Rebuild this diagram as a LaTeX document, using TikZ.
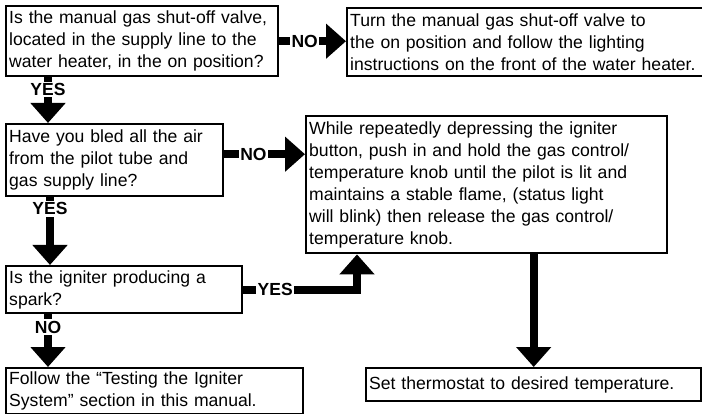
\documentclass[tikz,border=0pt]{standalone}
\usepackage{fontspec}
\setmainfont{Liberation Sans}
\usetikzlibrary{arrows.meta,positioning}

\begin{document}
\begin{tikzpicture}[
            x=1pt, y=-1pt,
            box/.style={draw, line width=2.4pt, anchor=north west, align=left,
                inner xsep=3pt, inner ysep=1pt, font=\fontsize{17.6}{22}\selectfont},
            flow/.style={line width=8pt, -{Triangle[width=34pt,length=20pt]}},
            lbl/.style={fill=white, inner sep=1.5pt, font=\fontsize{17.5}{22}\selectfont\bfseries}
        ]
        \useasboundingbox (0,0) rectangle (702,414);

        % Question boxes
        \node[box, text width=266pt, minimum height=70pt] (Q1) at (5,5)
            {Is the manual gas shut-off valve,\\located in the supply line to the\\water heater, in the on position?};
        \node[box, text width=211pt, minimum height=72pt] (Q2) at (5,123)
            {Have you bled all the air\\from the pilot tube and\\gas supply line?};
        \node[box, text width=230pt, minimum height=47pt] (Q3) at (5,265)
            {Is the igniter producing a\\spark?};

        % Action boxes
        \node[box, text width=350pt, minimum height=68pt] (A1) at (346,7)
            {Turn the manual gas shut-off valve to\\the on position and follow the lighting\\instructions on the front of the water heater.};
        \node[box, text width=355pt, minimum height=137pt] (A2) at (305,115)
            {While repeatedly depressing the igniter\\button, push in and hold the gas control/\\temperature knob until the pilot is lit and\\maintains a stable flame, (status light\\will blink) then release the gas control/\\temperature knob.};
        \node[box, text width=291pt, minimum height=46pt] (A3) at (5,367)
            {Follow the “Testing the Igniter\\System” section in this manual.};
        \node[box, text width=329pt, minimum height=33pt] (A4) at (365,367)
            {Set thermostat to desired temperature.};

        % NO branches
        \draw[flow] (Q1.east) -- node[lbl, pos=0.38] {NO} (Q1.east -| A1.west);
        \draw[flow] ([yshift=6pt]Q2.east) -- node[lbl, pos=0.36] {NO} ([yshift=6pt]Q2.east -| A2.west);
        \draw[flow] ([xshift=43pt]Q3.south west) -- node[lbl, pos=0.24] {NO} ([xshift=43pt]Q3.south west |- A3.north);

        % YES branches
        \draw[flow] ([xshift=43pt]Q1.south west) -- node[lbl, pos=0.27] {YES} ([xshift=43pt]Q1.south west |- Q2.north);
        \draw[flow] ([xshift=45pt]Q2.south west) -- node[lbl, pos=0.17] {YES} ([xshift=45pt]Q2.south west |- Q3.north);
        \draw[flow] (Q3.east) -| node[lbl, pos=0.14] {YES} ([xshift=52pt]A2.south west);

        % last step
        \draw[flow] (A4.north |- A2.south) -- (A4.north);
    \end{tikzpicture}
\end{document}
